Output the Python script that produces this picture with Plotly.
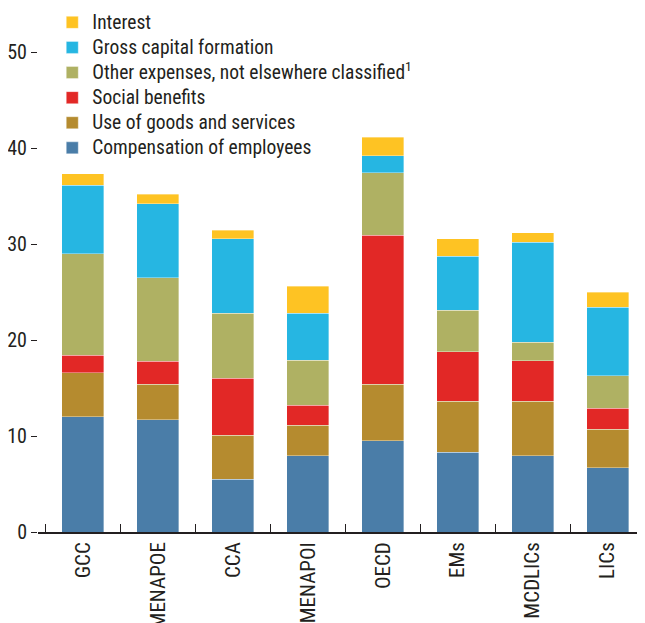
# Stacked bars of government expenditure by component, per region group

import plotly.graph_objects as go

regions = ["GCC", "MENAPOE", "CCA", "MENAPOI", "OECD", "EMs", "MCDLICs", "LICs"]

compensation = [12.0, 11.7, 5.5, 7.95, 9.5, 8.3, 7.95, 6.7]
goods_services = [4.6, 3.7, 4.6, 3.15, 5.9, 5.3, 5.65, 4.0]
social_benefits = [1.8, 2.4, 5.9, 2.1, 15.5, 5.2, 4.25, 2.2]
other_expenses = [10.6, 8.7, 6.8, 4.7, 6.5, 4.3, 1.9, 3.4]
capital_formation = [7.1, 7.7, 7.75, 4.9, 1.8, 5.6, 10.45, 7.1]
interest = [1.2, 1.0, 0.9, 2.8, 1.9, 1.85, 0.95, 1.6]

series = [
    ("Compensation of employees", compensation, "#4A7DA8"),
    ("Use of goods and services", goods_services, "#B58B2F"),
    ("Social benefits", social_benefits, "#E22826"),
    ("Other expenses, not elsewhere classified<sup>1</sup>", other_expenses, "#AFB163"),
    ("Gross capital formation", capital_formation, "#26B6E2"),
    ("Interest", interest, "#FEC323"),
]

fig = go.Figure()
for name, vals, color in series:
    # legend rows are spaced by the legend font size, so the text itself is set a bit larger
    fig.add_trace(go.Bar(
        x=regions, y=vals,
        name='<span style="font-size:19.5px">' + name + '</span>',
        marker=dict(color=color, line=dict(color="rgba(255,255,255,0.6)", width=0.6)),
    ))

font_family = "Liberation Sans Narrow, Arial Narrow, Roboto Condensed, Liberation Sans, sans-serif"

# page body has an 8px margin, so the figure is a bit smaller than the window
fig.update_layout(
    barmode="stack",
    bargap=0.44,
    width=637, height=615,
    margin=dict(l=30, r=0, t=2, b=91, autoexpand=False),
    plot_bgcolor="white", paper_bgcolor="white",
    font=dict(family=font_family, size=19, color="#231F20"),
    showlegend=True,
    legend=dict(
        traceorder="reversed",
        x=0.0235, y=1.01, xanchor="left", yanchor="top",
        font=dict(size=17),
        bgcolor="rgba(0,0,0,0)", tracegroupgap=0,
    ),
    xaxis=dict(
        range=[-0.6, 7.5], automargin=False,
        showline=True, linecolor="#231F20", linewidth=1.5,
        ticks="inside", tickson="boundaries", ticklen=8, tickcolor="#231F20",
        tickangle=-90, tickfont=dict(size=21),
    ),
    yaxis=dict(
        range=[0, 54.375], automargin=False,
        tickvals=[0, 10, 20, 30, 40, 50],
        ticks="outside", ticklen=6, tickcolor="#231F20",
        showgrid=False, zeroline=False, showline=False,
        tickfont=dict(size=20),
    ),
)

fig.write_html("out.html")
